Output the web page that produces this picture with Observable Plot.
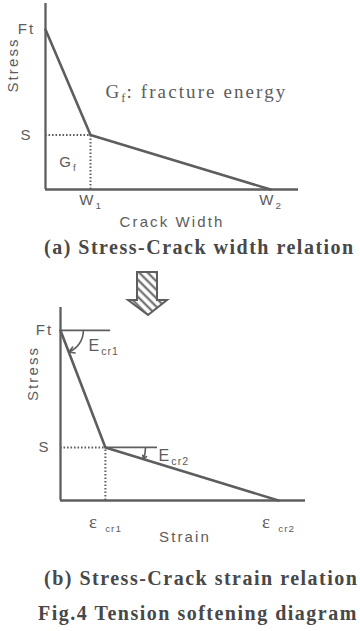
<!DOCTYPE html>
<html>
<head>
<meta charset="utf-8">
<script src="https://cdn.jsdelivr.net/npm/d3@7"></script>
<script src="https://cdn.jsdelivr.net/npm/@observablehq/plot@0.6"></script>
<style>
  body { margin: 0; background: #fff; }
  #fig { position: relative; width: 360px; height: 631px; overflow: hidden; background: #fff; }
  .plot { position: absolute; left: 0; }
  .cap {
    position: absolute; white-space: nowrap;
    font-family: "Liberation Serif", "Times New Roman", serif;
    font-weight: bold; font-size: 20px; letter-spacing: 1.5px; line-height: 22px; color: #484848;
  }
  #arrow { position: absolute; left: 124px; top: 268px; }
</style>
</head>
<body>
<div id="fig"></div>
<script>
// (a) bilinear softening curve: stress against crack width
const widthPoints = [0, 0.2, 1.0];          // 0, W1, W2
const widthStress = [1, 0.34, 0];           // Ft, S, 0
const widthTickLabels = ["W_{1}", "W_{2}"];
const stressTickLabelsA = ["Ft", "S"];

// (b) the same curve expressed with crack strain
const strainPoints = [0, 0.206, 1.0];       // 0, εcr1, εcr2
const strainStress = [1, 0.312, 0];         // Ft, S, 0
const strainTickLabels = ["~{ε}\u00a0_{cr1}", "~{ε}\u00a0_{cr2}"];
const stressTickLabelsB = ["Ft", "S"];

const lineColor = "#5e5e5e";
const textColor = "#5c5c5c";
const sans = "'Liberation Sans', Arial, sans-serif";
const serif = "'Liberation Serif', 'Times New Roman', serif";
const sansText = {fill: textColor, fontSize: 15};
const plotStyle = {fontFamily: sans, fontSize: "15px", color: textColor, background: "transparent", overflow: "visible", letterSpacing: "2.1px"};

const labelMap = (values, labels) => {
  const m = new Map(values.map((v, i) => [v, labels[i]]));
  return d => m.get(d);
};

// Turns "_{..}" into subscripts and "~{..}" into serif runs inside SVG text.
function richText(svg) {
  const NS = "http://www.w3.org/2000/svg";
  svg.querySelectorAll("text").forEach(t => {
    const s = t.textContent;
    if (!/[_~]\{/.test(s)) return;
    t.textContent = "";
    const re = /([_~])\{([^}]*)\}|([^_~]+)/g;
    let m, shift = 0;
    while ((m = re.exec(s))) {
      const sp = document.createElementNS(NS, "tspan");
      if (m[1] === "_") {
        sp.textContent = m[2];
        sp.setAttribute("font-size", "66%");
        sp.setAttribute("letter-spacing", "1");
        sp.setAttribute("dy", 4 - shift);
        shift = 4;
      } else {
        sp.textContent = m[1] === "~" ? m[2] : m[3];
        if (m[1] === "~") { sp.setAttribute("font-family", serif); sp.setAttribute("font-size", "125%"); }
        if (shift) { sp.setAttribute("dy", -shift); shift = 0; }
      }
      t.appendChild(sp);
    }
  });
  return svg;
}

const fig = document.getElementById("fig");

// ---------- (a) Stress – crack width ----------
const dataA = widthPoints.map((w, i) => ({w, s: widthStress[i]}));
const W1 = widthPoints[1], W2 = widthPoints[2];
const FtA = widthStress[0], SA = widthStress[1];

const plotA = Plot.plot({
  width: 360, height: 235,
  marginTop: 3, marginBottom: 46, marginLeft: 45, marginRight: 62,
  x: {domain: [0, 1.124]},
  y: {domain: [0, 1.1625]},
  style: plotStyle,
  marks: [
    Plot.ruleY([SA], {x1: 0, x2: W1, stroke: lineColor, strokeWidth: 2, strokeDasharray: "1.6,1.9"}),
    Plot.ruleX([W1], {y1: 0, y2: SA, stroke: lineColor, strokeWidth: 2, strokeDasharray: "1.6,1.9"}),
    Plot.ruleX([0], {stroke: lineColor, strokeWidth: 2.3}),
    Plot.ruleY([0], {stroke: lineColor, strokeWidth: 2.3}),
    Plot.line(dataA, {x: "w", y: "s", stroke: lineColor, strokeWidth: 2.6}),
    Plot.axisY([FtA, SA], {tickFormat: labelMap([FtA, SA], stressTickLabelsA), tickSize: 0, tickPadding: 19, textAnchor: "middle", label: null, ...sansText}),
    Plot.axisX([W1, W2], {tickFormat: labelMap([W1, W2], widthTickLabels), tickSize: 0, tickPadding: 5, label: null, ...sansText}),
    Plot.text(["Stress"], {frameAnchor: "left", dx: -32, dy: -4, rotate: -90, ...sansText}),
    Plot.text(["Crack Width"], {frameAnchor: "bottom", dy: 33, lineAnchor: "middle", ...sansText}),
    Plot.text(["G_{f}"], {x: W1 / 2, y: SA / 2, ...sansText}),
    Plot.text(["G_{f}: fracture energy"], {frameAnchor: "top-left", dx: 60, dy: 88, lineAnchor: "middle", textAnchor: "start", fontFamily: serif, fontSize: 19, fill: textColor})
  ]
});
plotA.classList.add("plot");
plotA.style.top = "0px";
fig.appendChild(richText(plotA));

// ---------- (b) Stress – crack strain ----------
const dataB = strainPoints.map((e, i) => ({e, s: strainStress[i]}));
const E1 = strainPoints[1], E2 = strainPoints[2];
const FtB = strainStress[0], SB = strainStress[1];

const plotB = Plot.plot({
  width: 360, height: 250,
  marginTop: 7, marginBottom: 50, marginLeft: 60, marginRight: 55,
  x: {domain: [0, 1.124]},
  y: {domain: [0, 1.135]},
  style: plotStyle,
  marks: [
    Plot.ruleY([SB], {x1: 0, x2: E1, stroke: lineColor, strokeWidth: 2, strokeDasharray: "1.6,1.9"}),
    Plot.ruleX([E1], {y1: 0, y2: SB, stroke: lineColor, strokeWidth: 2, strokeDasharray: "1.6,1.9"}),
    // tangent references for the two softening moduli
    Plot.ruleY([FtB], {x1: 0, x2: 0.23, stroke: lineColor, strokeWidth: 1.8}),
    Plot.ruleY([SB], {x1: E1, x2: 0.445, stroke: lineColor, strokeWidth: 1.8}),
    Plot.ruleX([0], {stroke: lineColor, strokeWidth: 2.3}),
    Plot.ruleY([0], {stroke: lineColor, strokeWidth: 2.3}),
    Plot.line(dataB, {x: "e", y: "s", stroke: lineColor, strokeWidth: 2.6}),
    Plot.arrow([0], {x1: 0.105, y1: FtB, x2: 0.038, y2: 0.873, bend: 34, headLength: 6, stroke: lineColor, strokeWidth: 1.6}),
    Plot.arrow([0], {x1: 0.39, y1: SB, x2: 0.381, y2: 0.243, bend: 9, headLength: 6, stroke: lineColor, strokeWidth: 1.6}),
    Plot.text(["E_{cr1}"], {x: 0.128, y: 0.91, textAnchor: "start", ...sansText, fontSize: 16}),
    Plot.text(["E_{cr2}"], {x: 0.45, y: 0.262, textAnchor: "start", ...sansText, fontSize: 16}),
    Plot.axisY([FtB, SB], {tickFormat: labelMap([FtB, SB], stressTickLabelsB), tickSize: 0, tickPadding: 16, textAnchor: "middle", label: null, ...sansText}),
    Plot.axisX([E1, E2], {tickFormat: labelMap([E1, E2], strainTickLabels), tickSize: 0, tickPadding: 17, label: null, ...sansText}),
    Plot.text(["Stress"], {frameAnchor: "left", dx: -27, dy: -3, rotate: -90, ...sansText}),
    Plot.text(["Strain"], {frameAnchor: "bottom", dx: 2, dy: 37, lineAnchor: "middle", ...sansText})
  ]
});
plotB.classList.add("plot");
plotB.style.top = "300px";
fig.appendChild(richText(plotB));

// ---------- captions and the hatched transition arrow ----------
const captions = [
  {text: "(a) Stress-Crack width relation", left: 44, top: 236},
  {text: "(b) Stress-Crack strain relation", left: 44, top: 567},
  {text: "Fig.4 Tension softening diagram", left: 38, top: 602}
];
for (const c of captions) {
  const d = document.createElement("div");
  d.className = "cap";
  d.textContent = c.text;
  d.style.left = c.left + "px";
  d.style.top = c.top + "px";
  fig.appendChild(d);
}

fig.insertAdjacentHTML("beforeend", `
<svg id="arrow" width="48" height="52" viewBox="0 0 48 52">
  <defs>
    <pattern id="hatch" patternUnits="userSpaceOnUse" width="6" height="6" patternTransform="rotate(-45)">
      <line x1="1.5" y1="0" x2="1.5" y2="6" stroke="${lineColor}" stroke-width="2"/>
    </pattern>
  </defs>
  <path d="M13,4 H33 V32 H43 L24,47 L4,32 H13 Z" fill="url(#hatch)" stroke="${lineColor}" stroke-width="2" stroke-linejoin="miter"/>
</svg>`);
</script>
</body>
</html>
